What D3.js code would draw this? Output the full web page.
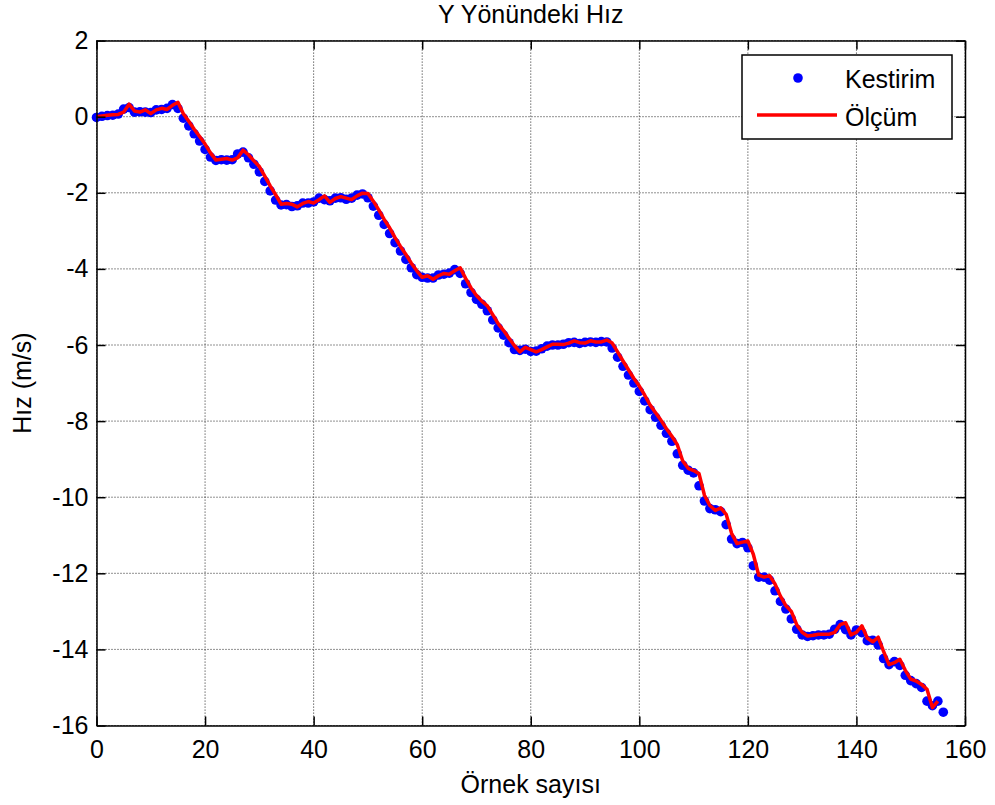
<!doctype html>
<html>
<head>
<meta charset="utf-8">
<title>Y Yönündeki Hız</title>
<script src="https://cdnjs.cloudflare.com/ajax/libs/d3/7.8.5/d3.min.js"></script>
<style>
  body { margin: 0; background: #fff; }
  text { font-family: "Liberation Sans", Arial, sans-serif; fill: #000; }
  .grid line { stroke: #222; stroke-width: 1; stroke-dasharray: 1,2; }
  .ax path, .ax line { stroke: #000; stroke-width: 1.5; }
  .ax text { font-size: 25px; }
</style>
</head>
<body>
<div id="chart"></div>
<script>
// values (sample index = position in array)
const olcum = [
  0.00, 0.02, 0.04, 0.05, 0.06, 0.12, 0.33, 0.15, 0.12, 0.18,
  0.08, 0.18, 0.22, 0.19, 0.30, 0.38, 0.08, -0.12, -0.33, -0.52,
  -0.72, -0.95, -1.14, -1.12, -1.10, -1.14, -1.08, -0.88, -1.00, -1.16,
  -1.31, -1.56, -1.82, -2.05, -2.30, -2.28, -2.30, -2.37, -2.28, -2.23,
  -2.27, -2.18, -2.08, -2.25, -2.15, -2.10, -2.14, -2.18, -2.08, -2.01,
  -2.02, -2.22, -2.45, -2.70, -2.92, -3.18, -3.41, -3.62, -3.85, -4.05,
  -4.22, -4.18, -4.27, -4.18, -4.12, -4.14, -4.05, -3.97, -4.25, -4.50,
  -4.70, -4.85, -4.97, -5.20, -5.44, -5.62, -5.82, -6.02, -6.18, -6.06,
  -6.12, -6.18, -6.12, -6.05, -5.98, -5.98, -5.99, -5.95, -5.89, -5.94,
  -5.95, -5.89, -5.92, -5.92, -5.87, -5.95, -6.18, -6.42, -6.65, -6.88,
  -7.08, -7.32, -7.58, -7.78, -7.98, -8.20, -8.40, -8.62, -9.05, -9.24,
  -9.30, -9.38, -9.95, -10.22, -10.35, -10.28, -10.45, -10.95, -11.22, -11.18,
  -11.15, -11.50, -12.05, -12.10, -12.06, -12.28, -12.60, -12.85, -13.00, -13.35,
  -13.55, -13.65, -13.63, -13.60, -13.60, -13.60, -13.55, -13.35, -13.30, -13.62,
  -13.55, -13.38, -13.70, -13.80, -13.68, -14.05, -14.40, -14.35, -14.26, -14.55,
  -14.78, -14.83, -14.92, -15.05, -15.53, -15.36
];
const kestirim = [
  -0.02, 0.01, 0.03, 0.04, 0.07, 0.20, 0.24, 0.12, 0.13, 0.12,
  0.11, 0.18, 0.19, 0.22, 0.32, 0.22, -0.04, -0.24, -0.45, -0.64,
  -0.86, -1.06, -1.15, -1.13, -1.14, -1.13, -0.98, -0.93, -1.08, -1.25,
  -1.45, -1.70, -1.95, -2.19, -2.32, -2.31, -2.36, -2.34, -2.27, -2.27,
  -2.24, -2.14, -2.18, -2.21, -2.14, -2.13, -2.17, -2.14, -2.06, -2.03,
  -2.13, -2.35, -2.59, -2.83, -3.07, -3.31, -3.53, -3.75, -3.97, -4.15,
  -4.22, -4.24, -4.24, -4.16, -4.14, -4.11, -4.02, -4.12, -4.39, -4.62,
  -4.80, -4.93, -5.10, -5.34, -5.55, -5.74, -5.94, -6.12, -6.14, -6.11,
  -6.17, -6.16, -6.10, -6.03, -6.00, -6.00, -5.98, -5.94, -5.93, -5.96,
  -5.93, -5.92, -5.93, -5.91, -5.92, -6.08, -6.32, -6.56, -6.79, -7.00,
  -7.22, -7.47, -7.70, -7.90, -8.11, -8.32, -8.53, -8.86, -9.16, -9.29,
  -9.36, -9.70, -10.10, -10.30, -10.33, -10.38, -10.72, -11.10, -11.22, -11.19,
  -11.33, -11.80, -12.10, -12.10, -12.18, -12.46, -12.74, -12.94, -13.20, -13.47,
  -13.62, -13.66, -13.64, -13.62, -13.62, -13.60, -13.47, -13.35, -13.48, -13.62,
  -13.49, -13.56, -13.77, -13.76, -13.88, -14.24, -14.40, -14.32, -14.42, -14.68,
  -14.82, -14.90, -15.00, -15.36, -15.48, -15.36, -15.65
];
const xTicks = [0, 20, 40, 60, 80, 100, 120, 140, 160];
const yTicks = [2, 0, -2, -4, -6, -8, -10, -12, -14, -16];
const legendNames = ["Kestirim", "Ölçüm"];

const W = 995, H = 805;
// plot box edges (pixels)
const pL = 96.5, pR = 965, pT = 40.6, pB = 725.5;

const svg = d3.select('#chart').append('svg')
  .attr('width', W).attr('height', H);

const x = d3.scaleLinear().domain([0, 160]).range([pL, pR]);
const y = d3.scaleLinear().domain([-16, 2]).range([pB, pT]);

// grid (dotted, like matlab)
const grid = svg.append('g').attr('class', 'grid');
grid.selectAll('.gx').data(xTicks).join('line')
  .attr('x1', d => x(d)).attr('x2', d => x(d))
  .attr('y1', pT).attr('y2', pB);
grid.selectAll('.gy').data(yTicks).join('line')
  .attr('y1', d => y(d)).attr('y2', d => y(d))
  .attr('x1', pL).attr('x2', pR);

// estimate dots first, measurement line on top
svg.append('g').selectAll('circle')
  .data(kestirim)
  .join('circle')
  .attr('cx', (d, i) => x(i))
  .attr('cy', d => y(d))
  .attr('r', 4.8)
  .attr('fill', '#0000ff');

const line = d3.line().x((d, i) => x(i)).y(d => y(d));
svg.append('path')
  .datum(olcum)
  .attr('d', line)
  .attr('fill', 'none')
  .attr('stroke', '#ff0000')
  .attr('stroke-width', 3.5)
  .attr('stroke-linejoin', 'round');

// axes, ticks inside on all four sides
svg.append('g').attr('class', 'ax')
  .attr('transform', `translate(0,${pB})`)
  .call(d3.axisBottom(x).tickValues(xTicks).tickSizeInner(-9).tickSizeOuter(0).tickPadding(15));
svg.append('g').attr('class', 'ax')
  .attr('transform', `translate(0,${pT})`)
  .call(d3.axisTop(x).tickValues(xTicks).tickSizeInner(-9).tickSizeOuter(0).tickFormat(''));
svg.append('g').attr('class', 'ax')
  .attr('transform', `translate(${pL},0)`)
  .call(d3.axisLeft(y).tickValues(yTicks).tickSizeInner(-9).tickSizeOuter(0).tickPadding(8));
svg.append('g').attr('class', 'ax')
  .attr('transform', `translate(${pR},0)`)
  .call(d3.axisRight(y).tickValues(yTicks).tickSizeInner(-9).tickSizeOuter(0).tickFormat(''));

// minus sign as plain hyphen like the original
svg.selectAll('.ax text').text(function() { return this.textContent.replace('−', '-'); });

// titles
svg.append('text').attr('x', (pL + pR) / 2).attr('y', 23)
  .attr('text-anchor', 'middle').style('font-size', '25px').text('Y Yönündeki Hız');
svg.append('text').attr('x', (pL + pR) / 2).attr('y', 793)
  .attr('text-anchor', 'middle').style('font-size', '25px').text('Örnek sayısı');
svg.append('text').attr('transform', `translate(31,${(pT + pB) / 2}) rotate(-90)`)
  .attr('text-anchor', 'middle').style('font-size', '25px').text('Hız (m/s)');

// legend box
const lg = svg.append('g');
lg.append('rect').attr('x', 742).attr('y', 55).attr('width', 210).attr('height', 84)
  .attr('fill', '#fff').attr('stroke', '#000').attr('stroke-width', 1.5);
lg.append('circle').attr('cx', 798).attr('cy', 78).attr('r', 4.8).attr('fill', '#0000ff');
lg.append('line').attr('x1', 757).attr('x2', 837).attr('y1', 115).attr('y2', 115)
  .attr('stroke', '#ff0000').attr('stroke-width', 3.5);
lg.selectAll('.lt').data(legendNames).join('text')
  .attr('x', 845).attr('y', (d, i) => 88 + i * 38)
  .style('font-size', '25px').text(d => d);
</script>
</body>
</html>
